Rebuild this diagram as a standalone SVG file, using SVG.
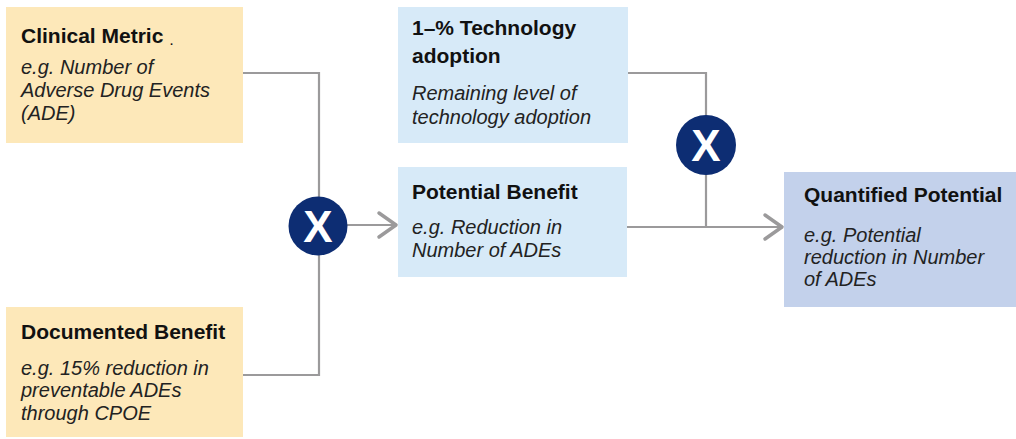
<svg xmlns="http://www.w3.org/2000/svg" width="1016" height="439" viewBox="0 0 1016 439">
  <style>
    .title { font-family: "Liberation Sans", Arial, sans-serif; font-weight: bold; font-size: 21px; fill: #111; }
    .desc { font-family: "Liberation Sans", Arial, sans-serif; font-style: italic; font-size: 20px; fill: #222; }
    .input { fill: #FDE8B9; }
    .factor { fill: #D7EAF8; }
    .result { fill: #C3D1EB; }
    .wire { fill: none; stroke: #9B9A9B; stroke-width: 2.2; }
    .chev { fill: none; stroke: #9B9A9B; stroke-width: 3.5; stroke-linecap: round; stroke-linejoin: round; }
    .op { fill: #0D2D73; }
    .opx { font-family: "Liberation Sans", Arial, sans-serif; font-weight: bold; font-size: 44px; fill: #fff; }
  </style>
  <rect width="1016" height="439" fill="#fff"/>

  <!-- connectors -->
  <g id="connectors">
    <polyline class="wire" points="243,73 319,73 319,375 243,375"/>
    <line class="wire" x1="319" y1="225" x2="396" y2="225"/>
    <polyline class="chev" points="379,213 396,225 379,237"/>
    <polyline class="wire" points="627,73 706,73 706,227"/>
    <line class="wire" x1="627" y1="227" x2="782" y2="227"/>
    <polyline class="chev" points="765,215 782,227 765,239"/>
  </g>

  <g id="clinical-metric">
    <rect class="input" x="6" y="7" width="237" height="136"/>
    <text class="title" x="21" y="43">Clinical Metric</text>
    <text class="title" x="170" y="45" style="font-size:11px">.</text>
    <text class="desc" x="21" y="74">e.g. Number of</text>
    <text class="desc" x="21" y="97">Adverse Drug Events</text>
    <text class="desc" x="21" y="120">(ADE)</text>
  </g>

  <g id="documented-benefit">
    <rect class="input" x="6" y="307" width="237" height="130"/>
    <text class="title" x="21" y="339">Documented Benefit</text>
    <text class="desc" x="21" y="375">e.g. 15% reduction in</text>
    <text class="desc" x="21" y="397">preventable ADEs</text>
    <text class="desc" x="21" y="420">through CPOE</text>
  </g>

  <g id="multiply-1">
    <circle class="op" cx="318" cy="226" r="29.5"/>
    <text class="opx" x="318" y="242" text-anchor="middle">X</text>
  </g>

  <g id="technology-adoption">
    <rect class="factor" x="398" y="7" width="230" height="136"/>
    <text class="title" x="412" y="35">1–% Technology</text>
    <text class="title" x="412" y="63">adoption</text>
    <text class="desc" x="412" y="100">Remaining level of</text>
    <text class="desc" x="412" y="124">technology adoption</text>
  </g>

  <g id="potential-benefit">
    <rect class="factor" x="398" y="167" width="229" height="110"/>
    <text class="title" x="412" y="199">Potential Benefit</text>
    <text class="desc" x="412" y="234">e.g. Reduction in</text>
    <text class="desc" x="412" y="257">Number of ADEs</text>
  </g>

  <g id="multiply-2">
    <circle class="op" cx="706" cy="145" r="30"/>
    <text class="opx" x="706" y="161" text-anchor="middle">X</text>
  </g>

  <g id="quantified-potential">
    <rect class="result" x="784" y="172" width="232" height="135"/>
    <text class="title" x="804" y="202">Quantified Potential</text>
    <text class="desc" x="804" y="242">e.g. Potential</text>
    <text class="desc" x="804" y="264">reduction in Number</text>
    <text class="desc" x="804" y="286">of ADEs</text>
  </g>
</svg>
